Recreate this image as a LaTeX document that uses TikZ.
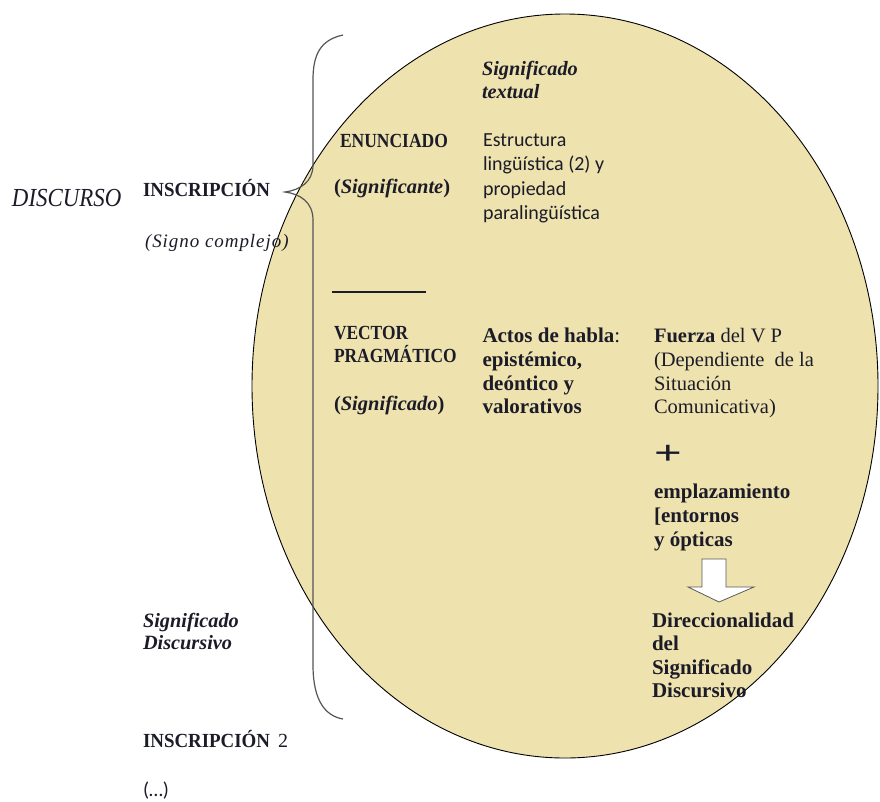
\documentclass[tikz,border=0pt]{standalone}
\usepackage{fontspec}
\setmainfont{Liberation Serif}
\newfontfamily\sansf{Carlito}
\newcommand\fsz[1]{\fontsize{#1}{#1}\selectfont}
\definecolor{ellfill}{RGB}{238,226,175}
\definecolor{ink}{RGB}{28,28,40}
\definecolor{bracec}{RGB}{85,85,85}
\begin{document}
\begin{tikzpicture}[x=1pt,y=-1pt,
  txt/.style={anchor=base west, inner sep=0pt, outer sep=0pt, text=ink},
  bsf/.style={font=\fsz{21}\bfseries},
  rsf/.style={font=\fsz{20.5}},
  bif/.style={font=\fsz{20.3}\bfseries\itshape},
  ssf/.style={font=\sansf\fsz{20}},
  capf/.style={font=\fsz{20}\bfseries}]
\useasboundingbox (0,0) rectangle (880,801);
\fill[white] (0,0) rectangle (880,801);
% big ellipse
\draw[fill=ellfill, line width=0.9pt] (565,386) ellipse [x radius=313pt, y radius=372pt];
% brace
\draw[bracec, line width=1.2pt] (343,35) .. controls (320,40) and (313,55) .. (313,80) -- (313,165)
  .. controls (313,182) and (300,190) .. (285,192)
  .. controls (300,194) and (313,202) .. (313,220) -- (313,665)
  .. controls (313,700) and (325,716) .. (343,719);
% short rule
\draw[ink, line width=1.3pt] (332,292) -- (426,292);
% block arrow
\draw[fill=white, draw=gray!70!black, line width=0.8pt] (702,559) -- (726,559) -- (726,587) -- (754,587) -- (719,602) -- (688,587) -- (702,587) -- cycle;
% left column
\node[txt, font=\fsz{26}\itshape] (discurso) at (12,206) {\scalebox{0.88}[1]{DISCURSO}};
\node[txt, capf] (inscr) at (143,196) {\scalebox{0.945}[1]{INSCRIPCIÓN}};
\node[txt, font=\fsz{19}\itshape\addfontfeatures{LetterSpace=5}] (signo) at (145,247) {(Signo complejo)};
\node[txt, bif] (sd1) at (143,627) {Significado};
\node[txt, bif] (sd2) at (143,649) {Discursivo};
\node[txt, capf] (inscr2) at (143,747) {\scalebox{0.945}[1]{INSCRIPCIÓN}\hspace{8pt}\mdseries 2};
\node[txt, font=\sansf\fsz{20}] (dots) at (143,796) {(…)};
% second column
\node[txt, capf] (enun) at (340,147) {\scalebox{0.875}[1]{ENUNCIADO}};
\node[txt, font=\fsz{20.5}\bfseries] (signte) at (334,193) {(\textit{Significante})};
\node[txt, capf] (vec1) at (334,339) {\scalebox{0.87}[1]{VECTOR}};
\node[txt, capf] (vec2) at (334,362) {\scalebox{0.87}[1]{PRAGMÁTICO}};
\node[txt, font=\fsz{20.5}\bfseries] (signdo) at (334,410) {(\textit{Significado})};
% third column
\node[txt, bif] (sigt1) at (482,75) {Significado};
\node[txt, bif] (sigt2) at (482,98) {textual};
\node[txt, ssf] (est1) at (483,146) {Estructura};
\node[txt, ssf] (est2) at (483,170.5) {lingüística (2) y};
\node[txt, ssf] (est3) at (483,195) {propiedad};
\node[txt, ssf] (est4) at (483,219.5) {paralingüística};
\node[txt, bsf] (act1) at (482.5,342) {Actos de habla\mdseries:};
\node[txt, bsf] (act2) at (482.5,366) {epistémico,};
\node[txt, bsf] (act3) at (482.5,390) {deóntico y};
\node[txt, bsf] (act4) at (482.5,413) {valorativos};
% fourth column
\node[txt, rsf] (fz1) at (654,342) {\textbf{Fuerza} del V P};
\node[txt, rsf] (fz2) at (654,366) {(Dependiente\ \ de la};
\node[txt, rsf] (fz3) at (654,390) {Situación};
\node[txt, rsf] (fz4) at (654,413) {Comunicativa)};
\node[anchor=center, inner sep=0pt, text=ink, font=\fsz{34}\bfseries] (plus) at (668,455) {\scalebox{1.45}[1]{+}};
\node[txt, bsf] (emp1) at (654,498) {emplazamiento};
\node[txt, bsf] (emp2) at (654,522) {[entornos};
\node[txt, bsf] (emp3) at (654,546) {y ópticas};
\node[txt, bsf] (dir1) at (652,627) {Direccionalidad};
\node[txt, bsf] (dir2) at (652,650.5) {del};
\node[txt, bsf] (dir3) at (652,674) {Significado};
\node[txt, bsf] (dir4) at (652,697.5) {Discursivo};
\end{tikzpicture}
\end{document}
